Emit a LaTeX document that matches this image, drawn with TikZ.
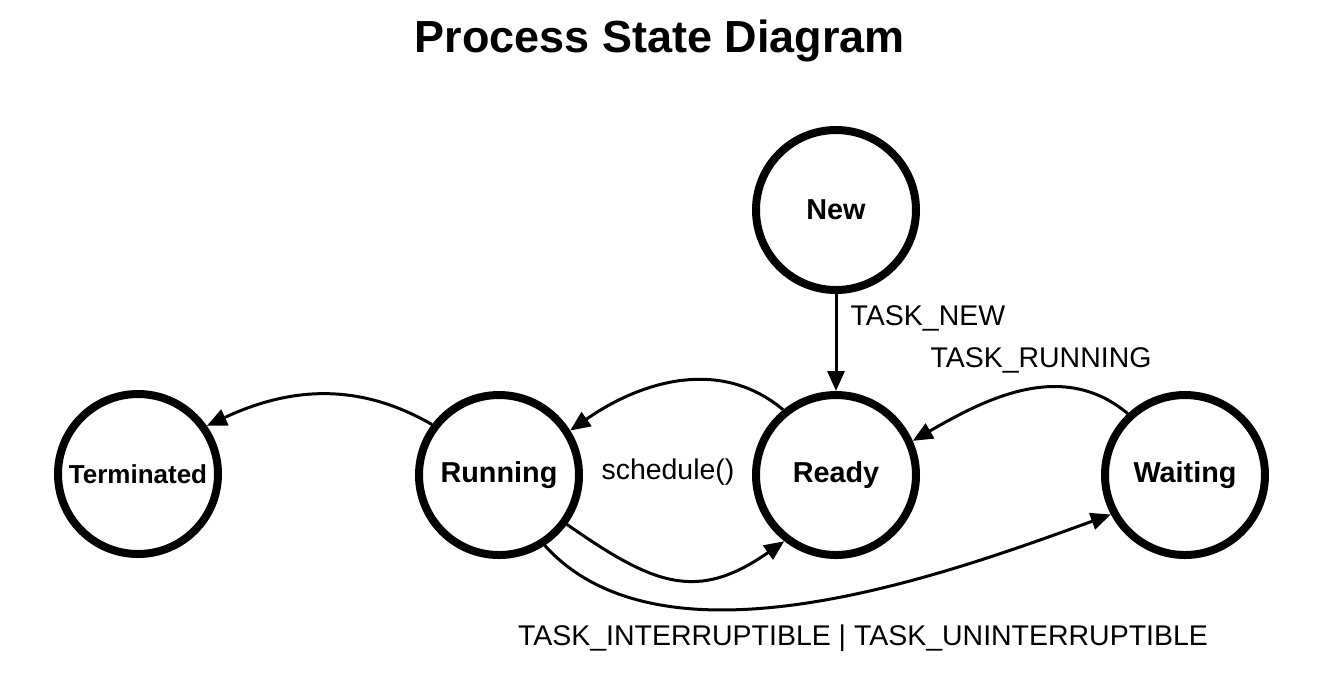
\documentclass[tikz,border=0pt]{standalone}
\usepackage{fontspec}
\setmainfont{Liberation Sans}
\usetikzlibrary{arrows.meta}

\tikzset{
    state/.style={circle, draw, line width=0.08cm, minimum size=1.6cm, inner sep=0pt, font=\fontsize{8.2}{9}\selectfont\bfseries},
    trans/.style={line width=0.03cm, -{Triangle[length=0.2cm, width=0.17cm]}},
    translabel/.style={font=\fontsize{8.1}{9}\selectfont, inner sep=0pt}
}

\begin{document}
\begin{tikzpicture}
    \useasboundingbox (0, 0) rectangle (13.24, -6.74);

    % Title
    \node[font=\fontsize{12.8}{14}\selectfont\bfseries] (title) at (6.60, -0.41) {Process State Diagram};

    % States
    \node[state] (new) at (8.36, -2.10) {New};
    \node[state] (ready) at (8.36, -4.75) {Ready};
    \node[state] (running) at (4.99, -4.75) {Running};
    \node[state, font=\fontsize{7.4}{8}\selectfont\bfseries] (terminated) at (1.38, -4.74) {Terminated};
    \node[state] (waiting) at (11.85, -4.75) {Waiting};

    % Transitions
    \draw[trans] (new) -- (ready);
    \draw[trans] (ready.129) to[out=140, in=35] (running.32);
    \draw[trans] (running.143) to[out=150, in=25] (terminated.35);
    \draw[trans] (running.-36) to[out=-35, in=215, looseness=1.25] (ready.232);
    \draw[trans] (running.-57) to[out=-48, in=200, looseness=0.8] (waiting.208);
    \draw[trans] (waiting.133) to[out=140, in=30] (ready.24);

    % Labels of transitions
    \node[translabel, anchor=west] (lnew) at (8.50, -3.18) {TASK\_NEW};
    \node[translabel] (lsched) at (6.68, -4.72) {schedule()};
    \node[translabel] (lrun) at (10.41, -3.60) {TASK\_RUNNING};
    \node[translabel] (lwait) at (8.63, -6.38) {TASK\_INTERRUPTIBLE | TASK\_UNINTERRUPTIBLE};

\end{tikzpicture}
\end{document}
